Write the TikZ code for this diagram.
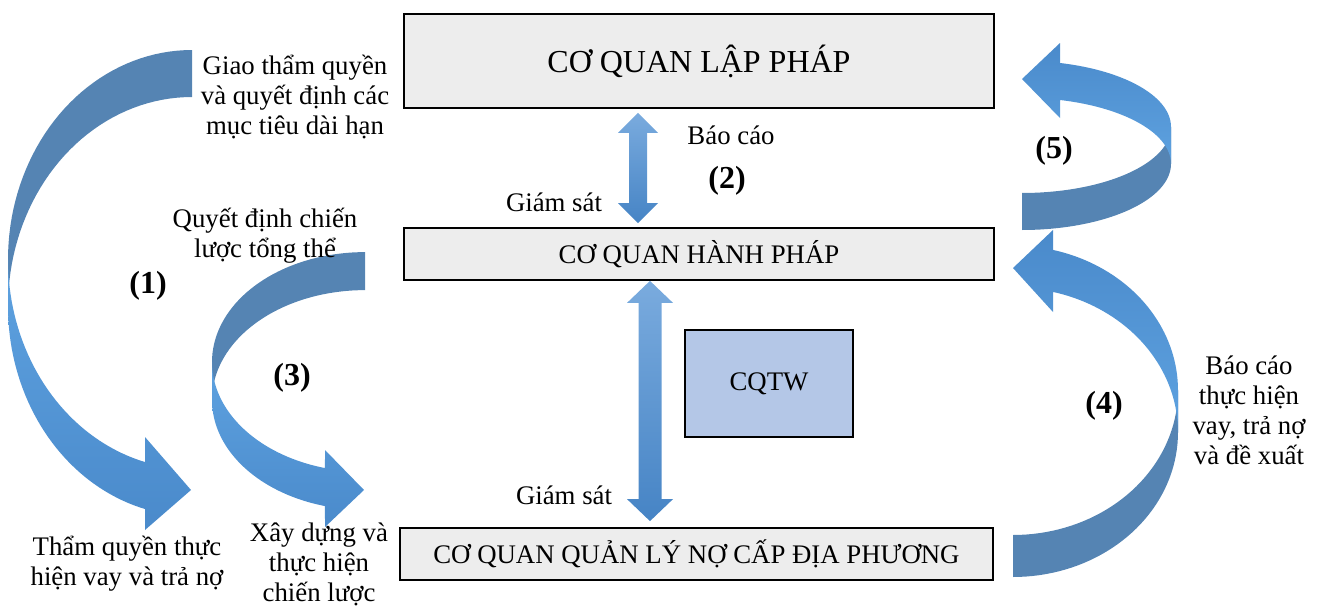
\documentclass[tikz,border=0pt]{standalone}
\usepackage{fontspec}
\setmainfont{Liberation Serif}
\usetikzlibrary{calc}
\definecolor{boxgray}{HTML}{EDEDED}
\definecolor{cqtwfill}{HTML}{B4C7E7}
\definecolor{arrL}{HTML}{7AABDE}
\definecolor{arrD}{HTML}{4684C5}
\definecolor{backC}{HTML}{5584B3}
\definecolor{frontL}{HTML}{5EA2E0}
\definecolor{frontD}{HTML}{4A8ACB}
\tikzset{
  box/.style={draw=black, line width=0.9pt, fill=boxgray, inner sep=0pt, font=\fontsize{13.4}{15}\selectfont},
  lbl/.style={font=\fontsize{13.4}{15}\selectfont, align=center, inner sep=0pt},
  num/.style={font=\fontsize{16}{18}\selectfont\bfseries, inner sep=0pt},
  backband/.style={fill=backC},
  frontdown/.style={top color=frontL, bottom color=frontD},
  frontup/.style={top color=frontD, bottom color=frontL},
  dblshade/.style={top color=arrL, bottom color=arrD},
}
% double arrow between two named points: #1 top tip, #2 bottom tip, #3 shaft half width, #4 head half width, #5 head length
\newcommand\dblarr[5]{%
  \shade[dblshade] (#1) -- ($(#1)+(#4,#5)$) -- ($(#1)+(#3,#5)$) -- ($(#2)+(#3,-#5)$) -- ($(#2)+(#4,-#5)$) -- (#2)
    -- ($(#2)+(-#4,-#5)$) -- ($(#2)+(-#3,-#5)$) -- ($(#1)+(-#3,#5)$) -- ($(#1)+(-#4,#5)$) -- cycle;}
\begin{document}
\begin{tikzpicture}[x=0.5pt,y=-0.5pt]
\useasboundingbox (0,0) rectangle (1317,605);

% boxes
\node[box, minimum width=295pt, minimum height=47pt, font=\fontsize{16}{18}\selectfont] (lap) at (699,61) {CƠ QUAN LẬP PHÁP};
\node[box, minimum width=295pt, minimum height=26pt] (hanh) at (699,254) {CƠ QUAN HÀNH PHÁP};
\node[box, minimum width=296.5pt, minimum height=26pt] (dp) at (696.5,554) {CƠ QUAN QUẢN LÝ NỢ CẤP ĐỊA PHƯƠNG};
\node[box, fill=cqtwfill, minimum width=84pt, minimum height=53.5pt] (cqtw) at (769,383.5) {CQTW};

% straight double arrows
\coordinate (x2) at (638,0);
\coordinate (x3) at (650,0);
\path (lap.south -| x2) ++(0,4) coordinate (a2t);
\path (hanh.north -| x2) ++(0,-4) coordinate (a2b);
\path (hanh.south -| x3) ++(0,0) coordinate (a3t);
\path (dp.north -| x3) ++(0,-6) coordinate (a3b);
\dblarr{a2t}{a2b}{9}{20}{20}
\dblarr{a3t}{a3b}{11.5}{23}{22}

% curved arrow (1)
\fill[backband] plot[domain=270:180, samples=40, variable=\t] ({192+184*cos(\t)},{259.5+209.5*sin(\t)})
  -- plot[domain=180:270, samples=40, variable=\t] ({192+184*cos(\t)},{306.5+209.5*sin(\t)}) -- cycle;
\shade[frontdown] plot[domain=180:104.8, samples=40, variable=\t] ({192+184*cos(\t)},{259.5+209.5*sin(\t)})
  -- (145,437) -- (191,490) -- (145,530)
  -- plot[domain=104.8:180, samples=40, variable=\t] ({192+184*cos(\t)},{306.5+209.5*sin(\t)}) -- cycle;

% curved arrow (3)
\fill[backband] plot[domain=270:180, samples=40, variable=\t] ({365+153*cos(\t)},{362+109.9*sin(\t)})
  -- plot[domain=180:270, samples=40, variable=\t] ({365+153*cos(\t)},{400+109.9*sin(\t)}) -- cycle;
\shade[frontdown] plot[domain=180:105.16, samples=40, variable=\t] ({365+153*cos(\t)},{362+109.9*sin(\t)})
  -- (325,450) -- (364,490) -- (325,527)
  -- plot[domain=105.16:180, samples=40, variable=\t] ({365+153*cos(\t)},{400+109.9*sin(\t)}) -- cycle;

% curved arrow (5)
\fill[backband] plot[domain=90:0, samples=40, variable=\t] ({1022+149*cos(\t)},{163.9+66.1*sin(\t)})
  -- plot[domain=0:90, samples=40, variable=\t] ({1022+149*cos(\t)},{126.9+66.1*sin(\t)}) -- cycle;
\shade[frontup] plot[domain=360:284.78, samples=40, variable=\t] ({1022+149*cos(\t)},{126.9+66.1*sin(\t)})
  -- (1060,43) -- (1022,79) -- (1060,118)
  -- plot[domain=284.78:360, samples=40, variable=\t] ({1022+149*cos(\t)},{163.9+66.1*sin(\t)}) -- cycle;

% curved arrow (4)
\fill[backband] plot[domain=90:0, samples=40, variable=\t] ({1013+165*cos(\t)},{432.3+144.7*sin(\t)})
  -- plot[domain=0:90, samples=40, variable=\t] ({1013+165*cos(\t)},{390.3+144.7*sin(\t)}) -- cycle;
\shade[frontup] plot[domain=360:284.03, samples=40, variable=\t] ({1013+165*cos(\t)},{390.3+144.7*sin(\t)})
  -- (1053,230) -- (1013,268) -- (1053,312)
  -- plot[domain=284.03:360, samples=40, variable=\t] ({1013+165*cos(\t)},{432.3+144.7*sin(\t)}) -- cycle;

% labels
\node[lbl] (t1) at (295,97) {Giao thẩm quyền\\và quyết định các\\mục tiêu dài hạn};
\node[lbl] (t2) at (265,236) {Quyết định chiến\\lược tổng thể};
\node[lbl] (t3) at (127,564) {Thẩm quyền thực\\hiện vay và trả nợ};
\node[lbl] (t4) at (319,564) {Xây dựng và\\thực hiện\\chiến lược};
\node[lbl] (t5) at (1249,410) {Báo cáo\\thực hiện\\vay, trả nợ\\và đề xuất};
\node[lbl] (bc) at (731,135) {Báo cáo};
\node[lbl] (gs1) at (554,202) {Giám sát};
\node[lbl] (gs2) at (564,495) {Giám sát};
\node[num] (n1) at (148,286) {(1)};
\node[num] (n2) at (727,181) {(2)};
\node[num] (n3) at (292,378) {(3)};
\node[num] (n4) at (1104,406) {(4)};
\node[num] (n5) at (1054,151) {(5)};
\end{tikzpicture}
\end{document}
